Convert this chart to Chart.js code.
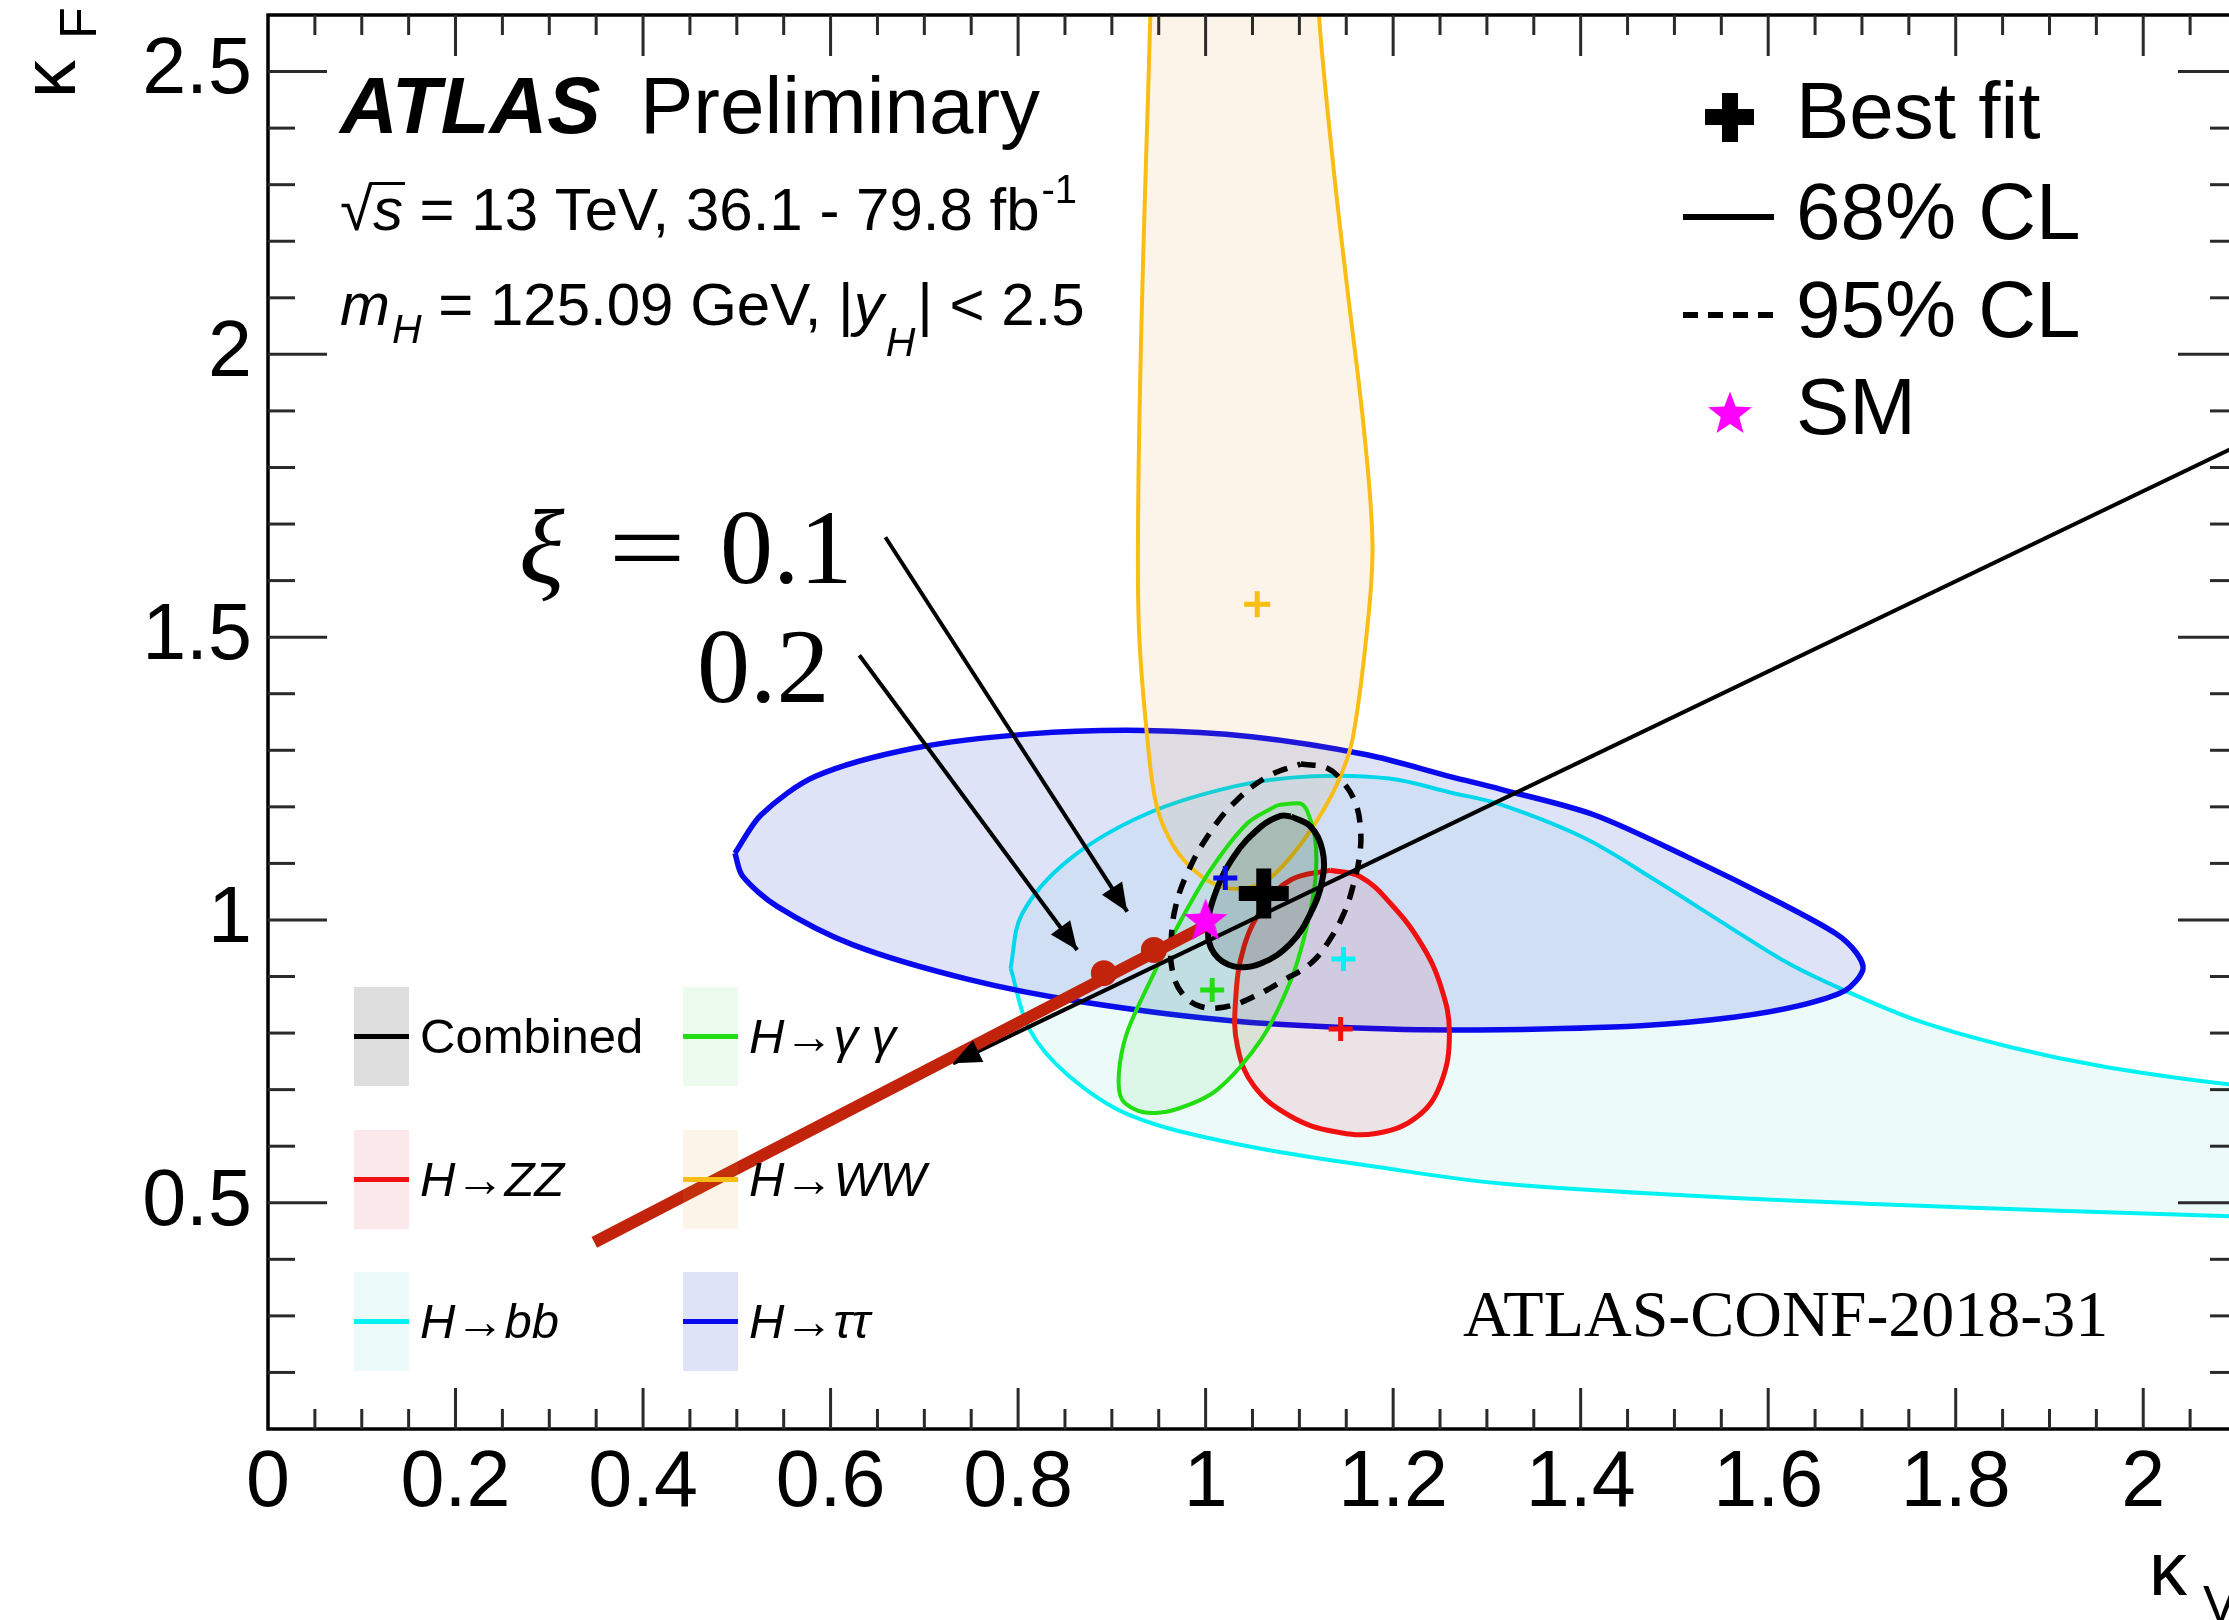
<!DOCTYPE html>
<html><head><meta charset="utf-8">
<script src="https://cdn.jsdelivr.net/npm/chart.js@4.4.1/dist/chart.umd.min.js"></script>
<style>
html,body{margin:0;padding:0;overflow:hidden;background:#fff;width:2229px;height:1620px}
canvas{display:block}
</style>
</head><body>
<canvas id="c" width="2240" height="1680" style="width:2240px;height:1680px"></canvas>
<script>
// ---------------- data ----------------
const xTickValues = [0, 0.2, 0.4, 0.6, 0.8, 1, 1.2, 1.4, 1.6, 1.8, 2];
const xTickLabels = ['0', '0.2', '0.4', '0.6', '0.8', '1', '1.2', '1.4', '1.6', '1.8', '2'];
const yTickValues = [0.5, 1, 1.5, 2, 2.5];
const yTickLabels = ['0.5', '1', '1.5', '2', '2.5'];

const contourBB = [[0.792,0.915],[0.804,1.010],[0.853,1.105],[0.935,1.186],[1.033,1.237],[1.114,1.254],[1.196,1.250],[1.262,1.225],[1.315,1.204],[1.404,1.145],[1.479,1.071],[1.563,0.983],[1.623,0.922],[1.682,0.875],[1.761,0.821],[1.861,0.774],[1.960,0.740],[2.093,0.709],[2.2,0.695],[2.2,0.470],[2.093,0.476],[1.910,0.486],[1.712,0.498],[1.513,0.513],[1.315,0.534],[1.196,0.560],[1.033,0.604],[0.919,0.655],[0.853,0.726],[0.812,0.807],[0.792,0.915]];
const contourTT = [[0.498,1.118],[0.526,1.186],[0.584,1.254],[0.690,1.304],[0.812,1.329],[0.935,1.335],[1.049,1.324],[1.172,1.292],[1.262,1.253],[1.315,1.231],[1.414,1.186],[1.513,1.112],[1.613,1.030],[1.672,0.976],[1.694,0.942],[1.701,0.912],[1.682,0.875],[1.632,0.848],[1.563,0.828],[1.464,0.813],[1.315,0.806],[1.196,0.807],[1.033,0.821],[0.869,0.855],[0.747,0.895],[0.624,0.956],[0.543,1.024],[0.506,1.078],[0.498,1.118]];
const contourWW = [[0.942,2.75],[0.941,2.597],[0.936,2.32],[0.931,2.017],[0.928,1.713],[0.929,1.51],[0.938,1.318],[0.948,1.2],[0.966,1.13],[0.991,1.083],[1.016,1.059],[1.041,1.056],[1.066,1.071],[1.091,1.112],[1.117,1.171],[1.1405,1.2415],[1.1565,1.318],[1.172,1.51],[1.178,1.662],[1.169,1.865],[1.151,2.118],[1.137,2.32],[1.121,2.597],[1.118,2.75],[0.942,2.75]];
const contourZZ = [[1.133,1.088],[1.165,1.0765],[1.197,1.0295],[1.2295,0.959],[1.251,0.882],[1.260,0.800],[1.251,0.7115],[1.226,0.6525],[1.183,0.623],[1.137,0.626],[1.091,0.6525],[1.052,0.7055],[1.034,0.776],[1.032,0.859],[1.041,0.953],[1.062,1.0235],[1.091,1.071],[1.133,1.088]];
const contourGG = [[1.0765,1.203],[1.101,1.206],[1.108,1.194],[1.117,1.141],[1.117,1.071],[1.108,0.988],[1.091,0.894],[1.059,0.788],[1.0125,0.700],[0.966,0.664],[0.934,0.660],[0.911,0.682],[0.9075,0.729],[0.916,0.800],[0.938,0.882],[0.970,0.988],[1.005,1.088],[1.0445,1.171],[1.0765,1.203]];
const combined68 = [[1.091,1.183],[1.112,1.165],[1.1245,1.124],[1.1245,1.071],[1.112,1.012],[1.091,0.959],[1.059,0.923],[1.030,0.918],[1.009,0.941],[1.0025,0.982],[1.009,1.041],[1.030,1.112],[1.059,1.165],[1.080,1.184],[1.091,1.183]];
const combined95 = [[1.1014,1.2756],[1.1299,1.2681],[1.1476,1.2415],[1.160,1.206],[1.165,1.165],[1.1646,1.118],[1.158,1.065],[1.1476,1.012],[1.130,0.959],[1.112,0.923],[1.0837,0.894],[1.0516,0.8645],[1.023,0.847],[0.9947,0.847],[0.975,0.870],[0.9644,0.9117],[0.9633,0.9647],[0.968,1.0236],[0.9804,1.0825],[1.0018,1.1472],[1.030,1.2064],[1.0658,1.2533],[1.1014,1.2756]];

const bestCombined = [1.062, 1.047];
const bestTT = [1.021, 1.074];
const bestGG = [1.007, 0.876];
const bestBB = [1.147, 0.931];
const bestZZ = [1.144, 0.807];
const bestWW = [1.055, 1.558];
const smPoint = [1.0, 1.0];

const redLine = [[0.348, 0.430], [0.998, 0.988]];
const redDots = [[0.8915, 0.906], [0.9448, 0.947]];
const longLine = [[0.7305, 0.7465], [2.1, 1.838]];
const arrowXi1 = [[0.6585, 1.6767], [0.9164, 1.0147]];
const arrowXi2 = [[0.6307, 1.468], [0.863, 0.947]];

// ---------------- styles ----------------
const SANS = '"Liberation Sans", Arial, Helvetica, sans-serif';
const SERIF = '"Liberation Serif", "Times New Roman", serif';
const C = {
  bb: '#00f2f2', bbFill: 'rgba(0,190,190,0.07)',
  tt: '#0a0aee', ttFill: 'rgba(10,40,200,0.13)',
  ww: '#f9bd14', wwFill: 'rgba(225,145,25,0.10)',
  zz: '#f01010', zzFill: 'rgba(220,30,50,0.10)',
  gg: '#22dd10', ggFill: 'rgba(40,210,60,0.09)',
  comb: '#000000', combFill: 'rgba(0,0,0,0.13)',
  red: '#c1240b', sm: '#ff00ff'
};

const pts = a => a.map(([x, y]) => ({x, y}));

function makeStar(size, color) {
  const c = document.createElement('canvas');
  c.width = c.height = size;
  const g = c.getContext('2d');
  g.fillStyle = color; g.beginPath();
  const R = size / 2, r = R * 0.42, cx = R, cy = R * 1.06;
  for (let i = 0; i < 10; i++) {
    const ang = -Math.PI / 2 + i * Math.PI / 5;
    const rad = i % 2 === 0 ? R : r;
    g.lineTo(cx + rad * Math.cos(ang), cy + rad * Math.sin(ang));
  }
  g.closePath(); g.fill();
  return c;
}
const starImg = makeStar(46, C.sm);

function contour(data, color, fillColor, width, dash, tension) {
  return { type: 'line', data: pts(data), borderColor: color, backgroundColor: fillColor || 'rgba(0,0,0,0)',
    borderWidth: width, fill: fillColor ? 'shape' : false, tension: tension, pointRadius: 0,
    borderDash: dash || [], borderJoinStyle: 'round', borderCapStyle: 'butt', clip: 0 };
}
function seg(data, color, width) {
  return { type: 'line', data: pts(data), borderColor: color, borderWidth: width, fill: false,
    tension: 0, pointRadius: 0, borderCapStyle: 'butt', clip: 0 };
}
function marker(p, style, radius, color, bw) {
  return { type: 'line', data: pts([p]), showLine: false, pointStyle: style, pointRadius: radius,
    borderColor: color, backgroundColor: color, pointBorderWidth: bw, borderWidth: bw, clip: 0 };
}

const datasets = [
  contour(contourBB, C.bb, C.bbFill, 4, null, 0.35),
  contour(contourTT, C.tt, C.ttFill, 5.5, null, 0.3),
  contour(contourWW, C.ww, C.wwFill, 4, null, 0.35),
  contour(contourZZ, C.zz, C.zzFill, 5, null, 0.4),
  contour(contourGG, C.gg, C.ggFill, 4, null, 0.3),
  contour(combined95, C.comb, null, 5.5, [15, 11], 0.4),
  contour(combined68, C.comb, C.combFill, 6, null, 0.4),
  seg(longLine, '#000', 4),
  seg(arrowXi1, '#000', 4),
  seg(arrowXi2, '#000', 4),
  seg(redLine, C.red, 12),
  { type: 'line', data: pts(redDots), showLine: false, pointRadius: 13, pointBackgroundColor: C.red, pointBorderWidth: 0, clip: 0 },
  marker(bestTT, 'cross', 12, C.tt, 5),
  marker(bestGG, 'cross', 12, C.gg, 5),
  marker(bestBB, 'cross', 12, C.bb, 5),
  marker(bestZZ, 'cross', 12, C.zz, 5),
  marker(bestWW, 'cross', 13, C.ww, 5),
  marker(bestCombined, 'cross', 25, '#000', 15),
  { type: 'line', data: pts([smPoint]), showLine: false, pointStyle: starImg, pointRadius: 23, clip: 0 }
];
datasets.forEach((d, i) => { d.order = datasets.length - i; });

// ---------------- plugins ----------------
function arrowHead(ctx, xs, ys, from, tip, L, Wd) {
  const ax = xs.getPixelForValue(from[0]), ay = ys.getPixelForValue(from[1]);
  const bx = xs.getPixelForValue(tip[0]), by = ys.getPixelForValue(tip[1]);
  const ang = Math.atan2(by - ay, bx - ax), c = Math.cos(ang), s = Math.sin(ang);
  ctx.beginPath();
  ctx.moveTo(bx, by);
  ctx.lineTo(bx - L * c + Wd * s, by - L * s - Wd * c);
  ctx.lineTo(bx - L * c - Wd * s, by - L * s + Wd * c);
  ctx.closePath(); ctx.fill();
}

const framePlugin = {
  id: 'frame',
  afterDatasetsDraw(chart) {
    const {ctx, chartArea: a, scales: {x, y}} = chart;
    ctx.save();
    ctx.fillStyle = '#000';
    arrowHead(ctx, x, y, arrowXi1[0], arrowXi1[1], 28, 12);
    arrowHead(ctx, x, y, arrowXi2[0], arrowXi2[1], 28, 12);
    arrowHead(ctx, x, y, longLine[1], longLine[0], 28, 12);
    // frame
    ctx.strokeStyle = '#000'; ctx.lineWidth = 3.5;
    ctx.strokeRect(a.left, a.top, a.right - a.left, a.bottom - a.top);
    ctx.strokeStyle = '#2a2a2a'; ctx.lineWidth = 3;
    const ln = (x1, y1, x2, y2) => { ctx.beginPath(); ctx.moveTo(x1, y1); ctx.lineTo(x2, y2); ctx.stroke(); };
    for (let i = 1; i < 42; i++) {
      const px = x.getPixelForValue(i * 0.05);
      const L = (i % 4 === 0) ? 41 : 20;
      ln(px, a.bottom, px, a.bottom - L);
      ln(px, a.top, px, a.top + L);
    }
    for (let i = 2; i < 26; i++) {
      const py = y.getPixelForValue(i * 0.1);
      const L = (i % 5 === 0) ? 59 : 27;
      ln(a.left, py, a.left + L, py);
      ln(a.right, py, a.right - L, py);
    }
    ctx.restore();
  },
  afterDraw(chart) {
    const ctx = chart.ctx;
    ctx.save();
    ctx.fillStyle = '#000'; ctx.textBaseline = 'alphabetic'; ctx.textAlign = 'left';
    const put = (t, x, y, f) => { ctx.font = f; ctx.fillText(t, x, y); return ctx.measureText(t).width; };

    // ATLAS Preliminary
    put('ATLAS', 340, 133, `italic bold 80px ${SANS}`);
    put('Preliminary', 640, 133, `80px ${SANS}`);

    // sqrt(s) line
    let x = 340, yb = 230;
    ctx.font = `60px ${SANS}`;
    const mr = ctx.measureText('√');
    const wr = put('√', x, yb, `60px ${SANS}`);
    const top = yb - mr.actualBoundingBoxAscent;
    x += wr;
    const ws = put('s', x, yb, `italic 60px ${SANS}`);
    ctx.lineWidth = 3; ctx.strokeStyle = '#000';
    ctx.beginPath(); ctx.moveTo(340 + mr.actualBoundingBoxRight - 3, top + 1.5); ctx.lineTo(x + ws + 2, top + 1.5); ctx.stroke();
    x += ws;
    x += put(' = 13 TeV, 36.1 - 79.8 fb', x, yb, `60px ${SANS}`);
    put('-1', x + 2, yb - 27, `40px ${SANS}`);

    // m_H line
    x = 340; yb = 325;
    x += put('m', x, yb, `italic 60px ${SANS}`);
    x += put('H', x + 2, yb + 18, `italic 41px ${SANS}`) + 2;
    x += put(' = 125.09 GeV, |', x, yb, `60px ${SANS}`);
    x += put('y', x, yb, `italic 60px ${SANS}`);
    x += put('H', x + 2, yb + 31, `italic 41px ${SANS}`) + 4;
    put('| < 2.5', x, yb, `60px ${SANS}`);

    // xi labels
    put('ξ', 519, 583, `italic 106px ${SERIF}`);
    ctx.save(); ctx.translate(647, 583); ctx.scale(1.3, 1); ctx.textAlign = 'center';
    ctx.font = `106px ${SERIF}`; ctx.fillText('=', 0, 0); ctx.restore();
    put('0.1', 720, 583, `106px ${SERIF}`);
    put('0.2', 697, 702, `106px ${SERIF}`);

    // ATLAS-CONF
    put('ATLAS-CONF-2018-31', 1463, 1336, `66px ${SERIF}`);

    // axis titles
    ctx.save(); ctx.translate(75, 98); ctx.rotate(-Math.PI / 2);
    ctx.font = `76px ${SANS}`; ctx.fillText('κ', 0, 0);
    ctx.font = `52px ${SANS}`; ctx.fillText('F', 59, 21);
    ctx.restore();
    put('κ', 2149, 1595, `76px ${SANS}`);
    put('V', 2203, 1622, `52px ${SANS}`);

    // top-right legend
    ctx.fillStyle = '#000';
    ctx.fillRect(1705, 109, 49, 16);
    ctx.fillRect(1722, 93, 16, 49);
    put('Best fit', 1796, 138, `80px ${SANS}`);
    ctx.lineWidth = 6; ctx.strokeStyle = '#000';
    ctx.beginPath(); ctx.moveTo(1683, 217); ctx.lineTo(1774, 217); ctx.stroke();
    put('68% CL', 1796, 239, `80px ${SANS}`);
    ctx.setLineDash([15, 10]);
    ctx.beginPath(); ctx.moveTo(1683, 315); ctx.lineTo(1774, 315); ctx.stroke();
    ctx.setLineDash([]);
    put('95% CL', 1796, 337, `80px ${SANS}`);
    ctx.drawImage(starImg, 1730 - 23, 413 - 23);
    put('SM', 1796, 434, `80px ${SANS}`);

    // bottom-left legend
    const entries = [
      ['Combined', C.comb, C.combFill, 0, 0, false],
      ['H→ZZ', C.zz, C.zzFill, 0, 1, true],
      ['H→bb', C.bb, C.bbFill, 0, 2, true],
      ['H→γ γ', C.gg, C.ggFill, 1, 0, true],
      ['H→WW', C.ww, C.wwFill, 1, 1, true],
      ['H→ττ', C.tt, C.ttFill, 1, 2, true]
    ];
    const colX = [354, 683], rowY = [987, 1130, 1272];
    for (const [label, lc, fc, ci, ri, it] of entries) {
      const bx = colX[ci], by = rowY[ri];
      ctx.fillStyle = fc; ctx.fillRect(bx, by, 55, 99);
      ctx.strokeStyle = lc; ctx.lineWidth = 5;
      ctx.beginPath(); ctx.moveTo(bx, by + 49.5); ctx.lineTo(bx + 55, by + 49.5); ctx.stroke();
      ctx.fillStyle = '#000';
      put(label, bx + 66, by + 66, `${it ? 'italic ' : ''}49px ${SANS}`);
    }
    ctx.restore();
  }
};

// ---------------- chart ----------------
const tickFont = {family: SANS, size: 79};
new Chart(document.getElementById('c').getContext('2d'), {
  type: 'line',
  data: { datasets },
  options: {
    responsive: false, maintainAspectRatio: false, animation: false, devicePixelRatio: 1,
    layout: { autoPadding: false, padding: { left: 0, right: 3, top: 15, bottom: 0 } },
    plugins: { legend: { display: false }, tooltip: { enabled: false } },
    events: [],
    scales: {
      x: {
        type: 'linear', min: 0, max: 2.1,
        grid: { display: false, drawTicks: false }, border: { display: false },
        afterBuildTicks: s => { s.ticks = xTickValues.map(v => ({ value: v })); },
        afterFit: s => { s.height = 251; s.paddingLeft = 0; s.paddingRight = 0; s.paddingTop = 0; s.paddingBottom = 0; },
        ticks: { font: tickFont, color: '#000', padding: 8, autoSkip: false, maxRotation: 0, minRotation: 0,
          callback: (v, i) => xTickLabels[i] }
      },
      y: {
        type: 'linear', min: 0.1, max: 2.6,
        grid: { display: false, drawTicks: false }, border: { display: false },
        afterBuildTicks: s => { s.ticks = yTickValues.map(v => ({ value: v })); },
        afterFit: s => { s.width = 268; s.paddingLeft = 0; s.paddingRight = 0; s.paddingTop = 0; s.paddingBottom = 0; },
        ticks: { font: tickFont, color: '#000', padding: 16, autoSkip: false,
          callback: (v, i) => yTickLabels[i] }
      }
    }
  },
  plugins: [framePlugin]
});
</script>
</body></html>
